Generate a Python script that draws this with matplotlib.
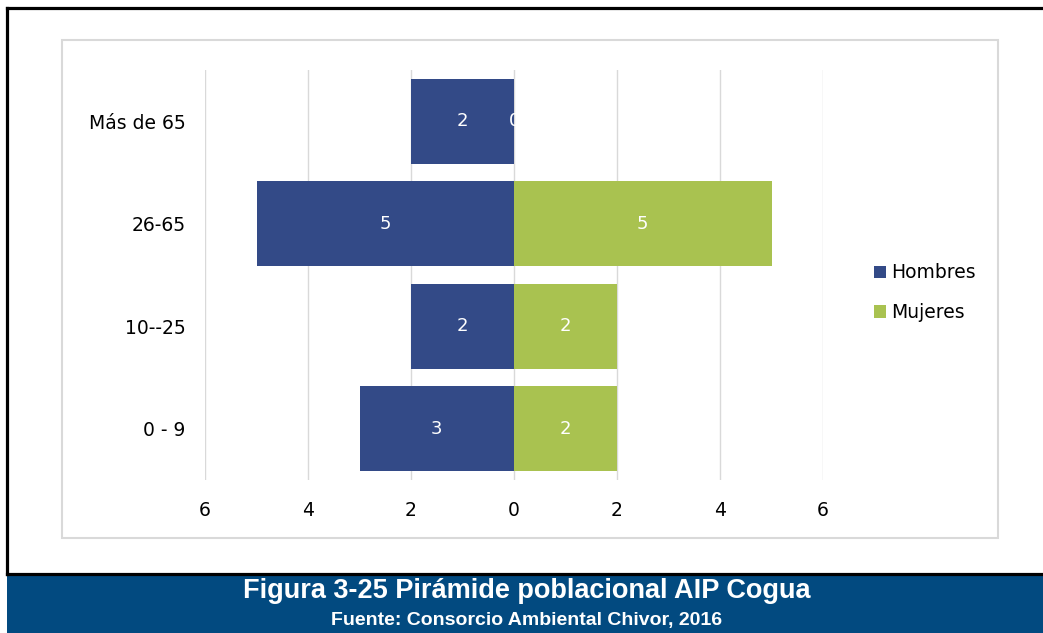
import matplotlib.pyplot as plt
from matplotlib.patches import Rectangle
from matplotlib.lines import Line2D
import numpy as np

# datos de la piramide
grupos = ["0 - 9", "10--25", "26-65", "Más de 65"]
hombres = [3, 2, 5, 2]
mujeres = [2, 2, 5, 0]
xticks = [-6, -4, -2, 0, 2, 4, 6]

c_h = "#334A87"
c_m = "#A9C250"

plt.rcParams['font.family'] = ['DejaVu Sans']

fig = plt.figure(figsize=(10.43, 6.33), dpi=100)
ax = fig.add_axes([205/1043, 1-480/633, 618/1043, 410/633])

y = np.arange(len(grupos))
bh = ax.barh(y, [-v for v in hombres], height=0.83, color=c_h, label="Hombres", zorder=2)
bm = ax.barh(y, mujeres, height=0.83, color=c_m, label="Mujeres", zorder=2)

for i in range(len(grupos)):
    ax.text(-hombres[i] / 2, y[i], str(hombres[i]), color="white", ha="center", va="center", fontsize=13, zorder=3)
    ax.text(mujeres[i] / 2, y[i], str(mujeres[i]), color="white", ha="center", va="center", fontsize=13, zorder=3)

ax.set_xlim(-6, 6)
ax.set_ylim(-0.5, 3.5)
ax.set_xticks(xticks)
ax.set_xticklabels([str(abs(t)) for t in xticks], fontsize=13.5)
ax.set_yticks(y)
ax.set_yticklabels(grupos, fontsize=13.5)
ax.tick_params(length=0)
ax.tick_params(axis="x", pad=15)
ax.tick_params(axis="y", pad=14)
ax.grid(axis="x", color="#D9D9D9", lw=1, zorder=0)
for s in ax.spines.values():
    s.set_visible(False)

fig.legend(handles=[bh, bm], loc="upper left", bbox_to_anchor=(866/1043, 1-256/633),
           frameon=False, fontsize=13.5, handlelength=0.65, handleheight=0.65,
           handletextpad=0.3, labelspacing=1.1, borderaxespad=0)

# marco gris del grafico
fig.add_artist(Rectangle((62/1043, 1-538/633), 936/1043, 498/633, transform=fig.transFigure,
                         fill=False, edgecolor="#D9D9D9", lw=1.5))
# bordes negros
fig.add_artist(Line2D([7/1043, 1], [1-7.5/633, 1-7.5/633], transform=fig.transFigure, color="black", lw=2.3))
fig.add_artist(Line2D([7/1043, 7/1043], [1-7.5/633, 1-574/633], transform=fig.transFigure, color="black", lw=2.3))
fig.add_artist(Line2D([7/1043, 1], [1-573.5/633, 1-573.5/633], transform=fig.transFigure, color="black", lw=2.3))
# banda azul
fig.add_artist(Rectangle((7/1043, 0), 1, (633-575)/633, transform=fig.transFigure,
                         facecolor="#024A80", edgecolor="none"))
fig.text(527/1043, 1-591.5/633, "Figura 3-25 Pirámide poblacional AIP Cogua", color="white",
         ha="center", va="center", fontsize=19.5, fontweight="bold", family="Liberation Sans")
fig.text(527/1043, 1-621/633, "Fuente: Consorcio Ambiental Chivor, 2016", color="white",
         ha="center", va="center", fontsize=14, fontweight="bold", family="Liberation Sans")

fig.savefig("out.png", dpi=100)
